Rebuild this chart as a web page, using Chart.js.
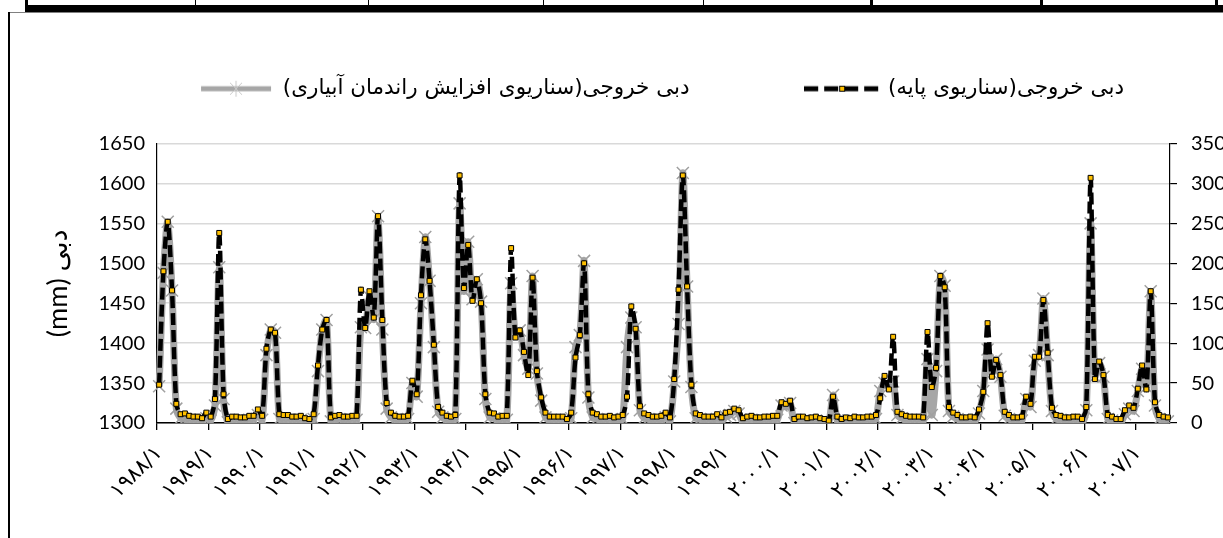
<!DOCTYPE html>
<html>
<head>
<meta charset="utf-8">
<style>
  html, body { margin: 0; padding: 0; background: #fff; }
  body { width: 1223px; height: 538px; overflow: hidden; position: relative; }
  .rule { position: absolute; background: #000; }
  #wrap { position: absolute; left: 10px; top: 13px; width: 1306px; height: 525px; }
  #wrap canvas { direction: rtl; }
</style>
<script src="https://cdn.jsdelivr.net/npm/chart.js"></script>
</head>
<body>
<!-- bottom edge of the table above the chart -->
<div class="rule" style="left:25px;top:5px;width:1198px;height:7px"></div>
<div class="rule" style="left:25px;top:0;width:3px;height:6px"></div>
<div class="rule" style="left:195px;top:0;width:1px;height:6px"></div>
<div class="rule" style="left:368px;top:0;width:1px;height:6px"></div>
<div class="rule" style="left:543px;top:0;width:1px;height:6px"></div>
<div class="rule" style="left:703px;top:0;width:1px;height:6px"></div>
<div class="rule" style="left:870px;top:0;width:3px;height:6px"></div>
<div class="rule" style="left:1040px;top:0;width:3px;height:6px"></div>
<div class="rule" style="left:1215px;top:0;width:3px;height:6px"></div>
<!-- chart frame -->
<div class="rule" style="left:8px;top:12px;width:1215px;height:1px;background:#808080"></div>
<div class="rule" style="left:8px;top:12px;width:2px;height:526px"></div>

<div id="wrap"><canvas id="chart"></canvas></div>

<script>
// year tick labels (one every 12 months)
const yearLabels = ['۱۹۸۸/۱', '۱۹۸۹/۱', '۱۹۹۰/۱', '۱۹۹۱/۱', '۱۹۹۲/۱', '۱۹۹۳/۱', '۱۹۹۴/۱',
  '۱۹۹۵/۱', '۱۹۹۶/۱', '۱۹۹۷/۱', '۱۹۹۸/۱', '۱۹۹۹/۱', '۲۰۰۰/۱', '۲۰۰۱/۱', '۲۰۰۲/۱',
  '۲۰۰۳/۱', '۲۰۰۴/۱', '۲۰۰۵/۱', '۲۰۰۶/۱', '۲۰۰۷/۱'];

const leftTicks = [1300, 1350, 1400, 1450, 1500, 1550, 1600, 1650];
const rightTicks = [0, 50, 100, 150, 200, 250, 300, 350];

// base scenario (one value per month, 1988/1 .. 2007/8)
const baseFlow = [
  1348, 1490, 1552, 1466, 1324, 1311, 1312, 1309, 1308, 1308, 1306, 1313,
  1308, 1330, 1538, 1336, 1305, 1308, 1308, 1307, 1307, 1309, 1309, 1317,
  1309, 1393, 1417, 1413, 1311, 1310, 1310, 1308, 1308, 1309, 1306, 1305,
  1311, 1372, 1417, 1429, 1307, 1309, 1310, 1308, 1308, 1309, 1309, 1467,
  1419, 1465, 1432, 1559, 1429, 1325, 1313, 1309, 1308, 1308, 1309, 1353,
  1336, 1460, 1530, 1478, 1398, 1320, 1313, 1309, 1308, 1310, 1610, 1469,
  1523, 1453, 1480, 1450, 1336, 1313, 1312, 1308, 1309, 1309, 1519, 1407,
  1416, 1389, 1360, 1482, 1365, 1332, 1313, 1308, 1308, 1308, 1308, 1305,
  1313, 1382, 1410, 1500, 1336, 1313, 1311, 1308, 1308, 1309, 1307, 1308,
  1310, 1333, 1446, 1418, 1321, 1312, 1310, 1308, 1308, 1309, 1313, 1307,
  1355, 1467, 1610, 1471, 1348, 1312, 1310, 1308, 1308, 1308, 1311, 1307,
  1313, 1314, 1318, 1316, 1306, 1308, 1309, 1307, 1307, 1308, 1308, 1309,
  1309, 1326, 1324, 1328, 1305, 1308, 1308, 1306, 1307, 1308, 1306, 1305,
  1303, 1333, 1308, 1305, 1307, 1306, 1308, 1307, 1307, 1308, 1308, 1310,
  1331, 1359, 1342, 1408, 1314, 1311, 1309, 1308, 1308, 1308, 1307, 1414,
  1345, 1369, 1484, 1470, 1320, 1313, 1310, 1307, 1307, 1308, 1307, 1317,
  1339, 1425, 1358, 1379, 1360, 1314, 1310, 1307, 1307, 1308, 1333, 1324,
  1383, 1383, 1454, 1388, 1319, 1310, 1309, 1307, 1307, 1308, 1308, 1305,
  1320, 1607, 1355, 1377, 1360, 1310, 1308, 1305, 1305, 1316, 1322, 1319,
  1343, 1372, 1342, 1465, 1326, 1310, 1308, 1307
];

// increased irrigation efficiency scenario
const efficiencyFlow = [
  1346, 1488, 1552, 1466, 1318, 1306, 1305, 1304, 1303, 1303, 1302, 1306,
  1303, 1322, 1495, 1330, 1301, 1303, 1303, 1302, 1302, 1304, 1304, 1310,
  1304, 1385, 1417, 1413, 1305, 1304, 1304, 1303, 1303, 1304, 1301, 1300,
  1305, 1365, 1417, 1429, 1302, 1304, 1305, 1303, 1303, 1304, 1304, 1420,
  1419, 1458, 1430, 1559, 1417, 1318, 1307, 1304, 1303, 1303, 1305, 1350,
  1333, 1450, 1533, 1478, 1395, 1314, 1307, 1304, 1303, 1305, 1575, 1465,
  1527, 1455, 1480, 1452, 1330, 1307, 1306, 1303, 1304, 1304, 1475, 1410,
  1416, 1385, 1368, 1484, 1362, 1328, 1307, 1303, 1303, 1303, 1303, 1300,
  1306, 1395, 1410, 1503, 1332, 1307, 1305, 1303, 1303, 1304, 1302, 1303,
  1305, 1395, 1432, 1420, 1316, 1306, 1305, 1303, 1303, 1304, 1307, 1302,
  1352, 1424, 1613, 1471, 1345, 1306, 1305, 1303, 1303, 1303, 1305, 1302,
  1308, 1310, 1315, 1312, 1301, 1303, 1304, 1302, 1302, 1303, 1303, 1304,
  1304, 1322, 1320, 1325, 1300, 1303, 1303, 1301, 1302, 1303, 1301, 1300,
  1300, 1335, 1303, 1300, 1302, 1301, 1303, 1302, 1302, 1303, 1303, 1305,
  1340, 1350, 1345, 1352, 1310, 1306, 1304, 1303, 1303, 1303, 1302, 1380,
  1310, 1365, 1484, 1472, 1315, 1308, 1305, 1302, 1302, 1303, 1302, 1312,
  1340, 1392, 1362, 1380, 1358, 1309, 1305, 1302, 1302, 1303, 1330, 1320,
  1378, 1385, 1456, 1385, 1315, 1305, 1304, 1302, 1302, 1303, 1303, 1300,
  1316, 1550, 1358, 1375, 1358, 1305, 1303, 1300, 1300, 1311, 1318, 1315,
  1340, 1368, 1345, 1465, 1322, 1305, 1303, 1302
];

// month categories 1988/1 ...
const faDigits = s => String(s).replace(/\d/g, d => '۰۱۲۳۴۵۶۷۸۹'[d]);
const months = [];
for (let y = 1988; months.length < baseFlow.length; y++) {
  for (let m = 1; m <= 12 && months.length < baseFlow.length; m++) months.push(faDigits(y + '/' + m));
}

// legend symbols: line + marker, like the spreadsheet legend
function legendIcon(draw) {
  const c = document.createElement('canvas');
  c.width = 76; c.height = 18;
  draw(c.getContext('2d'));
  return c;
}
const baseIcon = legendIcon(g => {
  g.strokeStyle = '#000'; g.lineWidth = 5; g.setLineDash([14, 6]);
  g.beginPath(); g.moveTo(0, 9); g.lineTo(76, 9); g.stroke();
  g.setLineDash([]);
  g.fillStyle = '#ffc000'; g.fillRect(35, 6, 6, 6);
  g.lineWidth = 1; g.strokeRect(35.5, 6.5, 5, 5);
});
const effIcon = legendIcon(g => {
  g.strokeStyle = '#a6a6a6'; g.lineWidth = 5;
  g.beginPath(); g.moveTo(2, 9); g.lineTo(72, 9); g.stroke();
  g.strokeStyle = '#c8c8c8'; g.lineWidth = 1;
  g.beginPath();
  g.moveTo(31, 3); g.lineTo(43, 15); g.moveTo(43, 3); g.lineTo(31, 15);
  g.moveTo(37, 1); g.lineTo(37, 17);
  g.stroke();
});
const legendIcons = [baseIcon, effIcon];

const legendSpace = {
  id: 'legendSpace',
  beforeInit(chart) {
    const fit = chart.legend.fit;
    chart.legend.fit = function () { fit.call(this); this.height += 34; };
  }
};

const numFont = { family: "Lato, 'DejaVu Sans'", size: 20 };

new Chart(document.getElementById('chart'), {
  type: 'line',
  data: {
    labels: months,
    datasets: [
      {
        label: 'دبی خروجی(سناریوی پایه)',
        data: baseFlow,
        yAxisID: 'y',
        borderColor: '#000',
        borderWidth: 4.5,
        borderDash: [12, 5],
        tension: 0.3,
        pointStyle: 'rect',
        pointRadius: 3.5,
        pointBackgroundColor: '#ffc000',
        pointBorderColor: '#000',
        pointBorderWidth: 1
      },
      {
        label: '\u2003\u2003\u2003\u2003\u2003دبی خروجی(سناریوی افزایش راندمان آبیاری)',
        data: efficiencyFlow,
        yAxisID: 'y',
        borderColor: '#a6a6a6',
        borderWidth: 7,
        tension: 0.3,
        pointStyle: 'crossRot',
        pointRadius: 8.5,
        pointBorderColor: '#a0a0a0',
        pointBorderWidth: 1.5
      }
    ]
  },
  options: {
    responsive: true,
    maintainAspectRatio: false,
    animation: false,
    layout: { padding: { top: 55, left: 0, right: 0, bottom: 0 } },
    plugins: {
      tooltip: { enabled: false },
      legend: {
        reverse: true,
        labels: {
          usePointStyle: true,
          pointStyleWidth: 70,
          padding: 10,
          color: '#000',
          font: { family: "'DejaVu Sans'", size: 21.5 },
          generateLabels(chart) {
            const items = Chart.defaults.plugins.legend.labels.generateLabels(chart);
            items.forEach(it => { it.pointStyle = legendIcons[it.datasetIndex]; });
            return items;
          }
        }
      }
    },
    scales: {
      x: {
        type: 'category',
        offset: true,
        afterFit: s => { s.height = 115; },
        grid: {
          offset: true,
          drawOnChartArea: false,
          drawTicks: true,
          tickLength: 7,
          color: c => (c.index % 12 === 0 ? '#000' : 'rgba(0,0,0,0)'),
          lineWidth: 1.3
        },
        border: { color: '#000', width: 1.5 },
        ticks: {
          autoSkip: false,
          maxRotation: 45,
          minRotation: 45,
          padding: 11,
          color: '#000',
          font: { family: "'DejaVu Sans'", size: 21 },
          callback: (v, i) => (i % 12 === 0 ? yearLabels[i / 12] : '')
        }
      },
      y: {
        position: 'left',
        min: leftTicks[0],
        max: leftTicks[leftTicks.length - 1],
        afterFit: s => { s.width = 147; },
        afterBuildTicks: s => { s.ticks = leftTicks.map(v => ({ value: v })); },
        grid: { color: '#d9d9d9', lineWidth: 1.5, drawTicks: false },
        border: { color: '#000', width: 1.2 },
        ticks: { padding: 12, color: '#000', font: numFont, callback: v => String(v) },
        title: {
          display: true,
          text: 'دبی (mm)',
          color: '#000',
          font: { family: "Lato, 'DejaVu Sans'", size: 27 },
          padding: { top: 32 }
        }
      },
      y1: {
        position: 'right',
        min: rightTicks[0],
        max: rightTicks[rightTicks.length - 1],
        afterFit: s => { s.width = 146; },
        afterBuildTicks: s => { s.ticks = rightTicks.map(v => ({ value: v })); },
        grid: { drawOnChartArea: false, drawTicks: true, tickLength: 7, color: '#000', lineWidth: 1.2 },
        border: { color: '#000', width: 1.2 },
        ticks: { padding: 14, color: '#000', font: numFont, callback: v => String(v) }
      }
    }
  },
  plugins: [legendSpace]
});
</script>
</body>
</html>
